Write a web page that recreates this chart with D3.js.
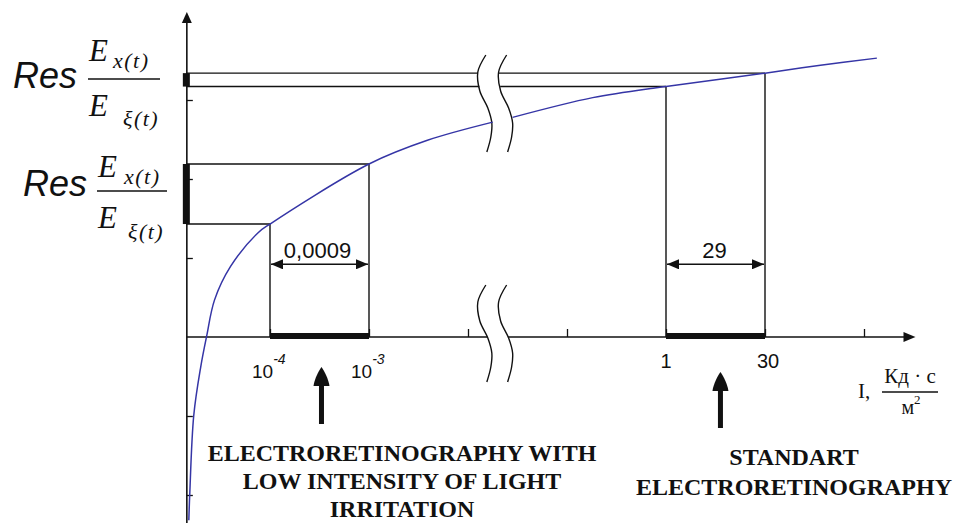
<!DOCTYPE html>
<html><head><meta charset="utf-8">
<script src="https://cdn.jsdelivr.net/npm/d3@7/dist/d3.min.js"></script>
<style>body{margin:0;background:#fff}svg{display:block}</style>
</head><body>
<svg id="c" width="959" height="523"></svg>
<script>
// ---- data (abstract schematic units) ----
const curveLeftU  = [0.18, 0.19, 0.23, 0.30, 0.36, 0.44, 0.60, 0.88, 1.00, 2.00, 2.59, 3.25];
const curveLeftV  = [-2.32, -1.97, -0.99, -0.38, 0.01, 0.47, 0.89, 1.32, 1.43, 2.19, 2.49, 2.72];
const curveRightU = [3.45, 4.26, 4.87, 5.00, 6.00, 6.56, 7.13];
const curveRightV = [2.78, 3.03, 3.15, 3.17, 3.34, 3.44, 3.53];
const boxLowU  = [1, 2];        // 10^-4 .. 10^-3
const boxLowV  = [1.43, 2.19];
const boxStdU  = [5, 6];        // 1 .. 30
const boxStdV  = [3.17, 3.34];
const xTickValues = [1, 2, 3, 4, 5, 6, 7];
const yTickValues = [-2, -1, 1, 2, 3];
const tickLabelU    = [1, 2, 5, 6];
const tickLabelBase = ["10", "10", "1", "30"];
const tickLabelSup  = ["-4", "-3", "", ""];
const spanLabels = ["0,0009", "29"];
const leftCaption  = ["ELECTRORETINOGRAPHY WITH", "LOW INTENSITY OF LIGHT", "IRRITATION"];
const rightCaption = ["STANDART", "ELECTRORETINOGRAPHY"];

// ---- scales ----
const x = d3.scaleLinear().domain([0, 8]).range([171, 963]);
const y = d3.scaleLinear().domain([0, 1]).range([337, 258]);
const u0 = 0.16, uEnd = 7.52, vTop = 4.1, vBot = -2.4;
const breakU = [3.17, 3.38];
const BLACK = "#111", BLUE = "#3535a6";

const svg = d3.select("#c");
svg.append("rect").attr("width", 959).attr("height", 523).attr("fill", "#fff");

// break mark shape (offset dx, dy from top)
const shape = [[1,0],[-7,17],[-5,36],[3,53],[7,68],[6,82],[2,97]];
function shapeDx(dy){
  for (let i=0;i<shape.length-1;i++){
    const a=shape[i], b=shape[i+1];
    if (dy>=a[1] && dy<=b[1]) return a[0]+(b[0]-a[0])*(dy-a[1])/(b[1]-a[1]);
  }
  return shape[shape.length-1][0];
}
const breakLine = d3.line().curve(d3.curveCatmullRom.alpha(0.5));
function drawBreak(topY){
  breakU.forEach(bu => {
    const cx = x(bu);
    svg.append("path").attr("d", breakLine(shape.map(p => [cx+p[0], topY+p[1]])))
      .attr("fill","none").attr("stroke",BLACK).attr("stroke-width",1.4);
  });
}
function breakX(i, topY, lineY){ return x(breakU[i]) + shapeDx(lineY - topY); }

const topBreakY = 55, axisBreakY = 285;

// ---- axes lines ----
const X0 = x(u0), Y0 = y(0);
svg.append("line").attr("x1",X0).attr("x2",X0).attr("y1",y(vTop)+8).attr("y2",y(vBot))
  .attr("stroke",BLACK).attr("stroke-width",1.6);
svg.append("path").attr("d",`M${X0},${y(vTop)-1} L${X0-5},${y(vTop)+10} L${X0+5},${y(vTop)+10} Z`).attr("fill",BLACK);
svg.append("line").attr("x1",X0).attr("x2",breakX(0,axisBreakY,Y0)).attr("y1",Y0).attr("y2",Y0)
  .attr("stroke",BLACK).attr("stroke-width",1.6);
svg.append("line").attr("x1",breakX(1,axisBreakY,Y0)).attr("x2",x(uEnd)-10).attr("y1",Y0).attr("y2",Y0)
  .attr("stroke",BLACK).attr("stroke-width",1.6);
svg.append("path").attr("d",`M${x(uEnd)},${Y0} L${x(uEnd)-12},${Y0-5} L${x(uEnd)-12},${Y0+5} Z`).attr("fill",BLACK);

// ticks via d3 axes
const gx = svg.append("g").attr("transform",`translate(0,${Y0})`)
  .call(d3.axisTop(x).tickValues(xTickValues).tickSize(8).tickFormat(""));
gx.select(".domain").remove();
gx.selectAll("line").attr("stroke",BLACK).attr("stroke-width",1.3);
const gy = svg.append("g").attr("transform",`translate(${X0},0)`)
  .call(d3.axisRight(y).tickValues(yTickValues).tickSize(6).tickFormat(""));
gy.select(".domain").remove();
gy.selectAll("line").attr("stroke",BLACK).attr("stroke-width",1.3);

drawBreak(axisBreakY);
drawBreak(topBreakY);

// ---- boxes ----
function hline(x1,x2,yy){ svg.append("line").attr("x1",x1).attr("x2",x2).attr("y1",yy).attr("y2",yy).attr("stroke",BLACK).attr("stroke-width",1.4); }
function vline(xx,y1,y2){ svg.append("line").attr("x1",xx).attr("x2",xx).attr("y1",y1).attr("y2",y2).attr("stroke",BLACK).attr("stroke-width",1.4); }
hline(X0, x(boxLowU[1]), y(boxLowV[1]));
hline(X0, x(boxLowU[0]), y(boxLowV[0]));
vline(x(boxLowU[1]), y(boxLowV[1]), Y0);
vline(x(boxLowU[0]), y(boxLowV[0]), Y0);
[boxStdV[1], boxStdV[0]].forEach((v,i) => {
  const yy = y(v);
  hline(X0, breakX(0, topBreakY, yy), yy);
  hline(breakX(1, topBreakY, yy), x(i===0 ? boxStdU[1] : boxStdU[0]), yy);
});
vline(x(boxStdU[1]), y(boxStdV[1]), Y0);
vline(x(boxStdU[0]), y(boxStdV[0]), Y0);

// thick bars
[boxLowV, boxStdV].forEach(v => {
  svg.append("rect").attr("x",X0-4).attr("width",7).attr("y",y(v[1])).attr("height",y(v[0])-y(v[1])).attr("fill",BLACK);
});
[boxLowU, boxStdU].forEach(uu => {
  svg.append("rect").attr("x",x(uu[0])).attr("width",x(uu[1])-x(uu[0])).attr("y",Y0-4).attr("height",6).attr("fill",BLACK);
});

// ---- curve ----
const curveLine = d3.line().x(d=>x(d[0])).y(d=>y(d[1])).curve(d3.curveCatmullRom.alpha(0.5));
svg.append("path").attr("d", curveLine(curveLeftU.map((u,i)=>[u,curveLeftV[i]])))
  .attr("fill","none").attr("stroke",BLUE).attr("stroke-width",1.5);
svg.append("path").attr("d", curveLine(curveRightU.map((u,i)=>[u,curveRightV[i]])))
  .attr("fill","none").attr("stroke",BLUE).attr("stroke-width",1.5);

// ---- dimension arrows ----
const defs = svg.append("defs");
defs.append("marker").attr("id","ah").attr("viewBox","0 0 12 10").attr("refX",12).attr("refY",5)
  .attr("markerWidth",12).attr("markerHeight",10).attr("markerUnits","userSpaceOnUse").attr("orient","auto-start-reverse")
  .append("path").attr("d","M0,0 L12,5 L0,10 Z").attr("fill",BLACK);
const dimY = y(0.92);
[boxLowU, boxStdU].forEach((uu,i) => {
  svg.append("line").attr("x1",x(uu[0])+1).attr("x2",x(uu[1])-1).attr("y1",dimY).attr("y2",dimY)
    .attr("stroke",BLACK).attr("stroke-width",1.4)
    .attr("marker-start","url(#ah)").attr("marker-end","url(#ah)");
  svg.append("text").attr("x",(x(uu[0])+x(uu[1]))/2 + (i===0?-2:-1)).attr("y",dimY-6)
    .attr("text-anchor","middle").attr("font-family","Liberation Sans, Arial").attr("font-size",22)
    .attr("fill",BLACK).text(spanLabels[i]);
});

// ---- tick labels ----
tickLabelU.forEach((u,i) => {
  const hasSup = tickLabelSup[i] !== "";
  const t = svg.append("text").attr("font-family","Liberation Sans, Arial").attr("fill",BLACK)
    .attr("x", hasSup ? x(u)-18 : x(u) + (tickLabelBase[i].length>1 ? 3 : 0)).attr("y", hasSup ? 378 : 368)
    .attr("text-anchor", hasSup ? "start" : "middle").attr("font-size", hasSup ? 19 : 20);
  t.append("tspan").text(tickLabelBase[i]);
  if (hasSup) t.append("tspan").attr("font-size",14).attr("font-style","italic").attr("dy",-14).text(tickLabelSup[i]);
});

// ---- axis unit label ----
const ser = "Liberation Serif, Times New Roman";
svg.append("text").attr("x",858).attr("y",398).attr("font-family",ser).attr("font-size",21).attr("fill",BLACK).text("I,");
svg.append("line").attr("x1",882).attr("x2",938).attr("y1",392).attr("y2",392).attr("stroke",BLACK).attr("stroke-width",1.3);
svg.append("text").attr("x",910).attr("y",383).attr("text-anchor","middle").attr("font-family",ser).attr("font-size",21).attr("fill",BLACK).text("Кд · с");
const mt = svg.append("text").attr("x",911).attr("y",414).attr("text-anchor","middle").attr("font-family",ser).attr("font-size",20).attr("fill",BLACK);
mt.append("tspan").text("м");
mt.append("tspan").attr("font-size",13).attr("dy",-10).text("2");

// ---- left fraction labels ----
function resLabel(resX, resY, barX1, barX2, barY, eX, upBase, loBase, subX1, subX2, loSubBase){
  svg.append("text").attr("x",resX).attr("y",resY).attr("font-family","Liberation Sans, Arial")
    .attr("font-style","italic").attr("font-size",36).attr("fill",BLACK).text("Res");
  svg.append("line").attr("x1",barX1).attr("x2",barX2).attr("y1",barY).attr("y2",barY).attr("stroke",BLACK).attr("stroke-width",1.6);
  svg.append("text").attr("x",eX).attr("y",upBase).attr("font-family",ser).attr("font-style","italic").attr("font-size",31).attr("fill",BLACK).text("E");
  svg.append("text").attr("x",subX1).attr("y",upBase+7).attr("font-family",ser).attr("font-style","italic").attr("font-size",22).attr("letter-spacing",1.5).attr("fill",BLACK).text("x(t)");
  svg.append("text").attr("x",eX).attr("y",loBase).attr("font-family",ser).attr("font-style","italic").attr("font-size",31).attr("fill",BLACK).text("E");
  svg.append("text").attr("x",subX2).attr("y",loSubBase).attr("font-family",ser).attr("font-style","italic").attr("font-size",22).attr("letter-spacing",1.5).attr("fill",BLACK).text("ξ(t)");
}
resLabel(13, 88, 88, 160, 79, 89, 61, 116, 113, 123, 126);
resLabel(23, 196, 97, 167, 191, 98, 177, 228, 124, 128, 239);

// ---- up arrows ----
function upArrow(xx, tip, bottom){
  svg.append("rect").attr("x",xx-2.5).attr("width",5).attr("y",tip+14).attr("height",bottom-tip-14).attr("fill",BLACK);
  svg.append("path").attr("d",`M${xx},${tip} C${xx+3},${tip+4} ${xx+7},${tip+12} ${xx+8},${tip+19} L${xx-8},${tip+19} C${xx-7},${tip+12} ${xx-3},${tip+4} ${xx},${tip} Z`).attr("fill",BLACK);
}
upArrow(x(1.52), 367, 424);
upArrow(x(5.55), 372, 428);

// ---- captions ----
function caption(lines, cx, base, step){
  lines.forEach((s,i) => svg.append("text").attr("x",cx).attr("y",base+i*step).attr("text-anchor","middle")
    .attr("font-family",ser).attr("font-weight","bold").attr("font-size",24).attr("fill",BLACK).text(s));
}
caption(leftCaption, 402, 461, 28);
caption(rightCaption, 794, 465, 30);
</script>
</body></html>
